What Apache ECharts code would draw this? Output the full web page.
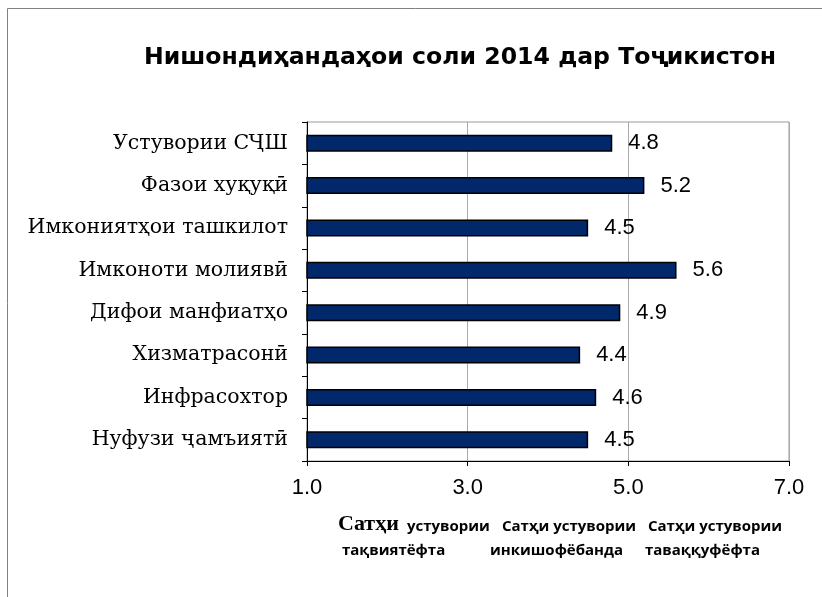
<!DOCTYPE html>
<html>
<head>
<meta charset="utf-8">
<script src="https://cdn.jsdelivr.net/npm/echarts@6/dist/echarts.min.js"></script>
<style>
  html, body { margin: 0; padding: 0; background: #fff; }
  #chart { width: 822px; height: 597px; }
</style>
</head>
<body>
<div id="chart"></div>
<script>
const categories = [
  'Устувории СҶШ',
  'Фазои хуқуқӣ',
  'Имкониятҳои ташкилот',
  'Имконоти молиявӣ',
  'Дифои манфиатҳо',
  'Хизматрасонӣ',
  'Инфрасохтор',
  'Нуфузи ҷамъиятӣ'
]
const values = [4.8, 5.2, 4.5, 5.6, 4.9, 4.4, 4.6, 4.5]

const xMin = 1
const xMax = 7
const xStep = 2

// подписи уровней под осью
const levelTop = ['устувории', 'Сатҳи устувории', 'Сатҳи устувории']
const levelBottom = ['тақвиятёфта', 'инкишофёбанда', 'таваққуфёфта']

const chart = echarts.init(document.getElementById('chart'))

const bottomFont = 'bold 15px "Open Sans", "Noto Sans", sans-serif'

const option = {
  backgroundColor: '#fff',
  animation: false,
  title: {
    text: 'Нишондиҳандаҳои соли 2014 дар Тоҷикистон',
    left: 455,
    top: 41,
    textAlign: 'center',
    textStyle: {
      fontFamily: '"DejaVu Sans", sans-serif',
      fontWeight: 'bold',
      fontSize: 23.6,
      color: '#000'
    }
  },
  grid: {
    left: 307, right: 33, top: 122, bottom: 136,
    show: true, borderColor: '#999', borderWidth: 1
  },
  xAxis: {
    type: 'value',
    min: xMin,
    max: xMax,
    interval: xStep,
    axisLine: { show: true, lineStyle: { color: '#000', width: 1 } },
    axisTick: { show: true, length: 5, lineStyle: { color: '#000' } },
    splitLine: { show: true, lineStyle: { color: '#aaa', width: 1 } },
    axisLabel: {
      margin: 16,
      fontFamily: '"Liberation Sans", Arial, sans-serif',
      fontSize: 22,
      color: '#000',
      formatter: v => v.toFixed(1)
    }
  },
  yAxis: {
    type: 'category',
    data: categories,
    inverse: true,
    axisLine: { show: true, lineStyle: { color: '#000', width: 1 } },
    axisTick: { show: true, length: 5, inside: false, lineStyle: { color: '#000' } },
    axisLabel: {
      margin: 19,
      fontFamily: '"DejaVu Serif", serif',
      fontSize: 20.5,
      color: '#000'
    }
  },
  series: [{
    type: 'bar',
    data: values,
    barWidth: 17,
    itemStyle: { color: '#00286b', borderColor: '#000', borderWidth: 1.5 },
    label: {
      show: true,
      position: 'right',
      distance: 16,
      fontFamily: '"Liberation Sans", Arial, sans-serif',
      fontSize: 22,
      color: '#000',
      formatter: p => p.value.toFixed(1)
    }
  }],
  graphic: [
    {
      type: 'rect',
      shape: { x: 7.5, y: 8.5, width: 900, height: 700 },
      style: { fill: 'none', stroke: '#808080', lineWidth: 1 },
      silent: true
    },
    {
      type: 'text', left: 338, top: 513,
      style: { text: 'Сатҳи', font: 'bold 22px "Liberation Serif", serif', fill: '#000' }
    },
    {
      type: 'text', left: 407, top: 519,
      style: { text: levelTop[0], font: bottomFont, fill: '#000' }
    },
    {
      type: 'text', left: 342, top: 543,
      style: { text: levelBottom[0], font: bottomFont, fill: '#000' }
    },
    {
      type: 'text', left: 502, top: 519,
      style: { text: levelTop[1], font: bottomFont, fill: '#000' }
    },
    {
      type: 'text', left: 490, top: 543,
      style: { text: levelBottom[1], font: bottomFont, fill: '#000' }
    },
    {
      type: 'text', left: 648, top: 519,
      style: { text: levelTop[2], font: bottomFont, fill: '#000' }
    },
    {
      type: 'text', left: 645, top: 543,
      style: { text: levelBottom[2], font: bottomFont, fill: '#000' }
    }
  ]
}

chart.setOption(option)
</script>
</body>
</html>
